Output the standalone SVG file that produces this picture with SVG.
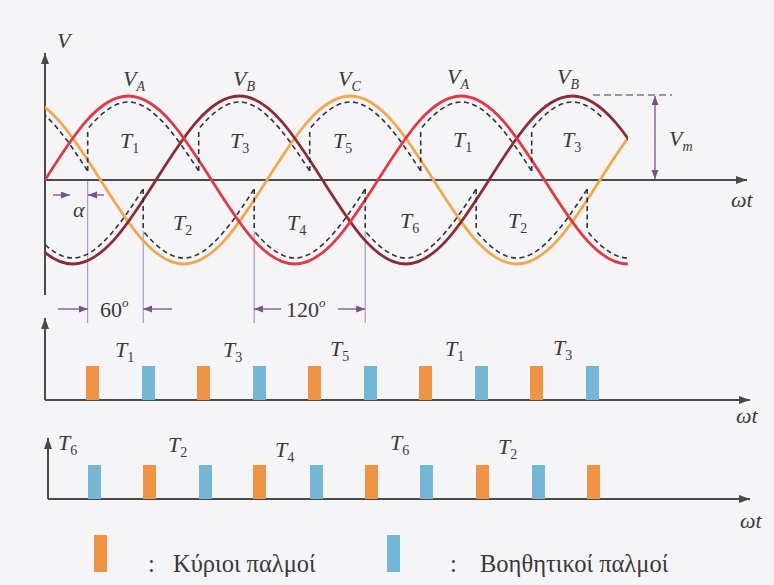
<svg xmlns="http://www.w3.org/2000/svg" xmlns:xlink="http://www.w3.org/1999/xlink" width="774" height="585" viewBox="0 0 774 585" font-family="Liberation Serif, Tinos, DejaVu Serif, Noto Serif, serif">
<style>
.ax{stroke:#4a4a4a;stroke-width:2;fill:none}
.crv{fill:none;stroke-width:2.8;stroke-linejoin:round}
.va{stroke:#e03a46}
.vb{stroke:#8c2c36}
.vc{stroke:#f1a84e}
.env{fill:none;stroke:#2e3340;stroke-width:1.6;stroke-dasharray:5 3.5}
.thin{stroke:#a684b4;stroke-width:1}
.dim{stroke:#7d4f8f;stroke-width:1.3;fill:none}
text{fill:#3a3a3a}
.lbl{font-style:italic;font-size:22px}
.sub{font-size:14px}
.up{font-style:normal}
.num{font-size:22px}
.gr{font-size:24.5px}
.po{fill:#ee9444}
.pb{fill:#74b6d4}
</style>
<defs>
<marker id="ah" markerUnits="userSpaceOnUse" markerWidth="12" markerHeight="8" refX="11" refY="4" orient="auto"><path d="M0,0 L11,4 L0,8 z" fill="#4a4a4a"/></marker>
<marker id="dh" markerUnits="userSpaceOnUse" markerWidth="10" markerHeight="8" refX="9" refY="3.5" orient="auto"><path d="M0,0 L9,3.5 L0,7 z" fill="#7d4f8f"/></marker>
<clipPath id="cc"><rect x="45" y="0" width="583" height="320"/></clipPath>
<clipPath id="ct"><rect x="45" y="0" width="557" height="320"/></clipPath>
<clipPath id="cb"><rect x="45" y="0" width="583" height="320"/></clipPath>
<clipPath id="seg"><rect x="42.7" y="0" width="111" height="320"/></clipPath>
<path id="archT" d="M5.07,183.2 c26.2,-41.5 52.08,-81.2 78.18,-81.2 c26.1,0 51.98,39.7 78.18,81.2"/>
<path id="archB" d="M5.07,176.8 c26.2,41.5 52.08,81.2 78.18,81.2 c26.1,0 51.98,-39.7 78.18,-81.2"/>
</defs>
<rect x="0" y="0" width="774" height="585" fill="#f5f4f6"/>

<g id="top-axes">
<line class="ax" x1="45" y1="295" x2="45" y2="53" marker-end="url(#ah)"/>
<line class="ax" x1="45" y1="180" x2="747" y2="180" marker-end="url(#ah)"/>
<text class="lbl" x="57" y="48">V</text>
<text class="lbl" x="731" y="207">ωt</text>
</g>

<g id="guides">
<line class="thin" x1="87.7" y1="181" x2="87.7" y2="323"/>
<line class="thin" x1="143.2" y1="231" x2="143.2" y2="323"/>
<line class="thin" x1="254.2" y1="231" x2="254.2" y2="323"/>
<line class="thin" x1="365.2" y1="231" x2="365.2" y2="323"/>
</g>

<g id="phases" clip-path="url(#cc)">
<path class="crv vc" d="M-66,180 c27.15,-43.03 53.12,-84 83.25,-84 s56.1,40.97 83.25,84 s53.12,84 83.25,84 s56.1,-40.97 83.25,-84 s53.12,-84 83.25,-84 s56.1,40.97 83.25,84 s53.12,84 83.25,84 s56.1,-40.97 83.25,-84 s53.12,-84 83.25,-84"/>
<path class="crv vb" d="M-10.5,180 c27.15,43.03 53.12,84 83.25,84 s56.1,-40.97 83.25,-84 s53.12,-84 83.25,-84 s56.1,40.97 83.25,84 s53.12,84 83.25,84 s56.1,-40.97 83.25,-84 s53.12,-84 83.25,-84 s56.1,40.97 83.25,84"/>
<path class="crv va" d="M45,180 c27.15,-43.03 53.12,-84 83.25,-84 s56.1,40.97 83.25,84 s53.12,84 83.25,84 s56.1,-40.97 83.25,-84 s53.12,-84 83.25,-84 s56.1,40.97 83.25,84 s53.12,84 83.25,84"/>
</g>

<g id="output-envelope">
<g clip-path="url(#ct)">
<g transform="translate(-66,0)"><use xlink:href="#archT" class="env" clip-path="url(#seg)"/></g>
<g transform="translate(45,0)"><use xlink:href="#archT" class="env" clip-path="url(#seg)"/></g>
<g transform="translate(156,0)"><use xlink:href="#archT" class="env" clip-path="url(#seg)"/></g>
<g transform="translate(267,0)"><use xlink:href="#archT" class="env" clip-path="url(#seg)"/></g>
<g transform="translate(378,0)"><use xlink:href="#archT" class="env" clip-path="url(#seg)"/></g>
<g transform="translate(489,0)"><use xlink:href="#archT" class="env" clip-path="url(#seg)"/></g>
</g>
<g clip-path="url(#cb)">
<g transform="translate(-10.5,0)"><use xlink:href="#archB" class="env" clip-path="url(#seg)"/></g>
<g transform="translate(100.5,0)"><use xlink:href="#archB" class="env" clip-path="url(#seg)"/></g>
<g transform="translate(211.5,0)"><use xlink:href="#archB" class="env" clip-path="url(#seg)"/></g>
<g transform="translate(322.5,0)"><use xlink:href="#archB" class="env" clip-path="url(#seg)"/></g>
<g transform="translate(433.5,0)"><use xlink:href="#archB" class="env" clip-path="url(#seg)"/></g>
<g transform="translate(544.5,0)"><use xlink:href="#archB" class="env" clip-path="url(#seg)"/></g>
</g>
<path class="env" d="M87.7,171 V128.8 M198.7,171 V128.8 M309.7,171 V128.8 M420.7,171 V128.8 M531.7,171 V128.8"/>
<path class="env" d="M143.2,189 V231.2 M254.2,189 V231.2 M365.2,189 V231.2 M476.2,189 V231.2 M587.2,189 V231.2"/>
</g>

<g id="vm-dimension">
<line x1="593" y1="95" x2="672" y2="95" stroke="#8a6a9a" stroke-width="1.6" stroke-dasharray="7 4"/>
<line class="dim" x1="655" y1="137" x2="655" y2="96" marker-end="url(#dh)"/>
<line class="dim" x1="655" y1="137" x2="655" y2="179" marker-end="url(#dh)"/>
<text class="lbl" x="669" y="146">V<tspan class="sub" dy="5">m</tspan></text>
</g>

<g id="angle-dimensions">
<line class="dim" x1="53" y1="195" x2="70" y2="195" marker-end="url(#dh)"/>
<line class="dim" x1="104" y1="195" x2="88" y2="195" marker-end="url(#dh)"/>
<text class="lbl" x="73" y="217" font-size="21">α</text>
<line class="dim" x1="58" y1="309" x2="87.7" y2="309" marker-end="url(#dh)"/>
<line class="dim" x1="172" y1="309" x2="143.2" y2="309" marker-end="url(#dh)"/>
<text class="num" x="100" y="317">60<tspan font-size="13" font-style="italic" dy="-10">o</tspan></text>
<line class="dim" x1="281" y1="309" x2="254.2" y2="309" marker-end="url(#dh)"/>
<line class="dim" x1="338" y1="309" x2="365.2" y2="309" marker-end="url(#dh)"/>
<text class="num" x="286" y="317">120<tspan font-size="13" font-style="italic" dy="-10">o</tspan></text>
</g>

<g id="top-labels">
<text class="lbl" x="123" y="86">V<tspan class="sub" dy="5">A</tspan></text>
<text class="lbl" x="233" y="86">V<tspan class="sub" dy="5">B</tspan></text>
<text class="lbl" x="338" y="86">V<tspan class="sub" dy="5">C</tspan></text>
<text class="lbl" x="447" y="84">V<tspan class="sub" dy="5">A</tspan></text>
<text class="lbl" x="557" y="84">V<tspan class="sub" dy="5">B</tspan></text>
<text class="lbl" x="120" y="148">T<tspan class="sub up" dy="5">1</tspan></text>
<text class="lbl" x="230" y="148">T<tspan class="sub up" dy="5">3</tspan></text>
<text class="lbl" x="333" y="148">T<tspan class="sub up" dy="5">5</tspan></text>
<text class="lbl" x="453" y="147">T<tspan class="sub up" dy="5">1</tspan></text>
<text class="lbl" x="562" y="147">T<tspan class="sub up" dy="5">3</tspan></text>
<text class="lbl" x="173" y="230">T<tspan class="sub up" dy="5">2</tspan></text>
<text class="lbl" x="287" y="230">T<tspan class="sub up" dy="5">4</tspan></text>
<text class="lbl" x="400" y="228">T<tspan class="sub up" dy="5">6</tspan></text>
<text class="lbl" x="508" y="228">T<tspan class="sub up" dy="5">2</tspan></text>
</g>

<g id="pulses-odd">
<line class="ax" x1="45" y1="400" x2="45" y2="318" marker-end="url(#ah)"/>
<line class="ax" x1="45" y1="400" x2="750" y2="400" marker-end="url(#ah)"/>
<text class="lbl" x="736" y="423">ωt</text>
<rect class="po" x="86" y="366" width="13" height="34"/>
<rect class="po" x="197" y="366" width="13" height="34"/>
<rect class="po" x="308" y="366" width="13" height="34"/>
<rect class="po" x="419" y="366" width="13" height="34"/>
<rect class="po" x="530" y="366" width="13" height="34"/>
<rect class="pb" x="142" y="366" width="13" height="34"/>
<rect class="pb" x="253" y="366" width="13" height="34"/>
<rect class="pb" x="364" y="366" width="13" height="34"/>
<rect class="pb" x="475" y="366" width="13" height="34"/>
<rect class="pb" x="586" y="366" width="13" height="34"/>
<text class="lbl" x="115" y="357">T<tspan class="sub up" dy="5">1</tspan></text>
<text class="lbl" x="223" y="357">T<tspan class="sub up" dy="5">3</tspan></text>
<text class="lbl" x="330" y="356">T<tspan class="sub up" dy="5">5</tspan></text>
<text class="lbl" x="445" y="356">T<tspan class="sub up" dy="5">1</tspan></text>
<text class="lbl" x="553" y="355">T<tspan class="sub up" dy="5">3</tspan></text>
</g>

<g id="pulses-even">
<line class="ax" x1="48" y1="499" x2="48" y2="438" marker-end="url(#ah)"/>
<line class="ax" x1="48" y1="499" x2="750" y2="499" marker-end="url(#ah)"/>
<text class="lbl" x="740" y="528">ωt</text>
<rect class="pb" x="88" y="465" width="13" height="34"/>
<rect class="pb" x="199" y="465" width="13" height="34"/>
<rect class="pb" x="310" y="465" width="13" height="34"/>
<rect class="pb" x="420" y="465" width="13" height="34"/>
<rect class="pb" x="532" y="465" width="13" height="34"/>
<rect class="po" x="143" y="465" width="13" height="34"/>
<rect class="po" x="253" y="465" width="13" height="34"/>
<rect class="po" x="365" y="465" width="13" height="34"/>
<rect class="po" x="476" y="465" width="13" height="34"/>
<rect class="po" x="587" y="465" width="13" height="34"/>
<text class="lbl" x="58" y="450">T<tspan class="sub up" dy="5">6</tspan></text>
<text class="lbl" x="168" y="452">T<tspan class="sub up" dy="5">2</tspan></text>
<text class="lbl" x="275" y="457">T<tspan class="sub up" dy="5">4</tspan></text>
<text class="lbl" x="390" y="450">T<tspan class="sub up" dy="5">6</tspan></text>
<text class="lbl" x="498" y="454">T<tspan class="sub up" dy="5">2</tspan></text>
</g>

<g id="legend">
<rect class="po" x="94" y="535" width="13" height="37"/>
<text class="gr" x="148" y="572">:</text>
<text class="gr" x="173" y="572">Κύριοι παλμοί</text>
<rect class="pb" x="387" y="535" width="13" height="37"/>
<text class="gr" x="450" y="572">:</text>
<text class="gr" x="480" y="572">Βοηθητικοί παλμοί</text>
</g>
</svg>
